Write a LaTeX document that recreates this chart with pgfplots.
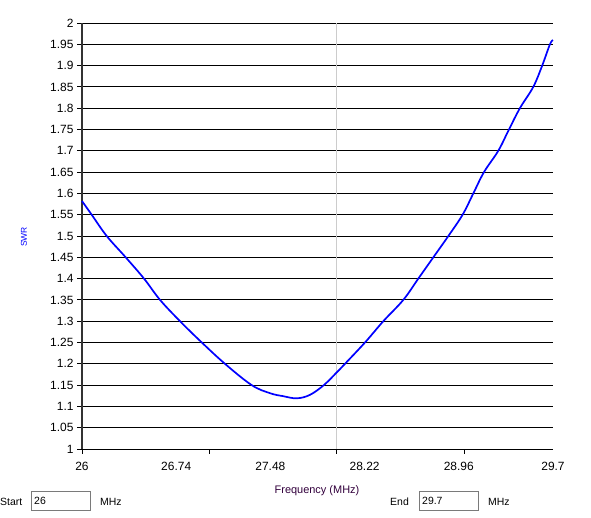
\documentclass[border=0pt]{standalone}
\usepackage{fontspec}
\setmainfont{Liberation Sans}
\usepackage{pgfplots}
\pgfplotsset{compat=1.18}
\definecolor{flabel}{RGB}{50,0,60}
\definecolor{boxgray}{RGB}{122,122,122}
\begin{document}
\begin{tikzpicture}[x=1bp,y=1bp]
\useasboundingbox (0,0) rectangle (591,518);
\begin{axis}[
  at={(82bp,69bp)}, anchor=south west,
  scale only axis, width=471bp, height=426bp,
  xmin=26, xmax=29.7, ymin=1, ymax=2,
  axis x line*=bottom, axis y line*=left,
  x axis line style={-, black, line width=0.8bp},
  y axis line style={-, black!80, line width=1.6bp},
  tick align=outside,
  major tick length=5bp,
  tick style={black, line width=0.8bp},
  xtick={26,27,28,29},
  xticklabels={,,,},
  extra x ticks={26,26.74,27.48,28.22,28.96,29.7},
  extra x tick labels={26,26.74,27.48,28.22,28.96,29.7},
  extra x tick style={major tick length=0pt, tick style={draw=none}, xticklabel style={yshift=-10bp}},
  ytick={1,1.05,1.1,1.15,1.2,1.25,1.3,1.35,1.4,1.45,1.5,1.55,1.6,1.65,1.7,1.75,1.8,1.85,1.9,1.95,2},
  yticklabels={1,1.05,1.1,1.15,1.2,1.25,1.3,1.35,1.4,1.45,1.5,1.55,1.6,1.65,1.7,1.75,1.8,1.85,1.9,1.95,2},
  ticklabel style={font=\fontsize{12}{14}\selectfont, text=black},
  ymajorgrids,
  major grid style={black, line width=0.8bp},
  clip=false,
]
\draw[black!20, line width=1bp] (axis cs:28,1) -- (axis cs:28,2);
\addplot[blue, line width=1.7bp, smooth, tension=0.6] coordinates {
(26.0,1.582) (26.076,1.55) (26.194,1.50) (26.343,1.45) (26.487,1.40)
(26.613,1.35) (26.77,1.30) (26.927,1.254) (27.123,1.20) (27.333,1.15)
(27.477,1.131) (27.58,1.124) (27.687,1.119) (27.79,1.127) (27.90,1.15)
(28.005,1.181) (28.066,1.20) (28.223,1.25) (28.367,1.30) (28.524,1.35)
(28.642,1.40) (28.76,1.45) (28.878,1.50) (28.99,1.55)
(29.074,1.60) (29.158,1.65) (29.27,1.70) (29.354,1.75) (29.44,1.80)
(29.545,1.85) (29.615,1.90) (29.676,1.95) (29.70,1.96)
};
\end{axis}
\node[rotate=90, text=blue, font=\fontsize{8.5}{10}\selectfont, inner sep=0] at (24,281) {SWR};
\node[text=flabel, font=\fontsize{11}{13}\selectfont, inner sep=0] at (317,27) {Frequency (MHz)};
\node[anchor=west, font=\fontsize{10.5}{12}\selectfont, inner sep=0] at (0,16.5) {Start};
\draw[boxgray, line width=1bp, fill=white] (31.5,7.5) rectangle (90.5,26.5);
\node[anchor=west, font=\fontsize{10.5}{12}\selectfont, inner sep=0] at (34,17) {26};
\node[anchor=west, font=\fontsize{10.5}{12}\selectfont, inner sep=0] at (100,16.5) {MHz};
\node[anchor=west, font=\fontsize{10.5}{12}\selectfont, inner sep=0] at (390,16.5) {End};
\draw[boxgray, line width=1bp, fill=white] (419.5,7.5) rectangle (478.5,26.5);
\node[anchor=west, font=\fontsize{10.5}{12}\selectfont, inner sep=0] at (422,17) {29.7};
\node[anchor=west, font=\fontsize{10.5}{12}\selectfont, inner sep=0] at (488,16.5) {MHz};
\end{tikzpicture}
\end{document}
